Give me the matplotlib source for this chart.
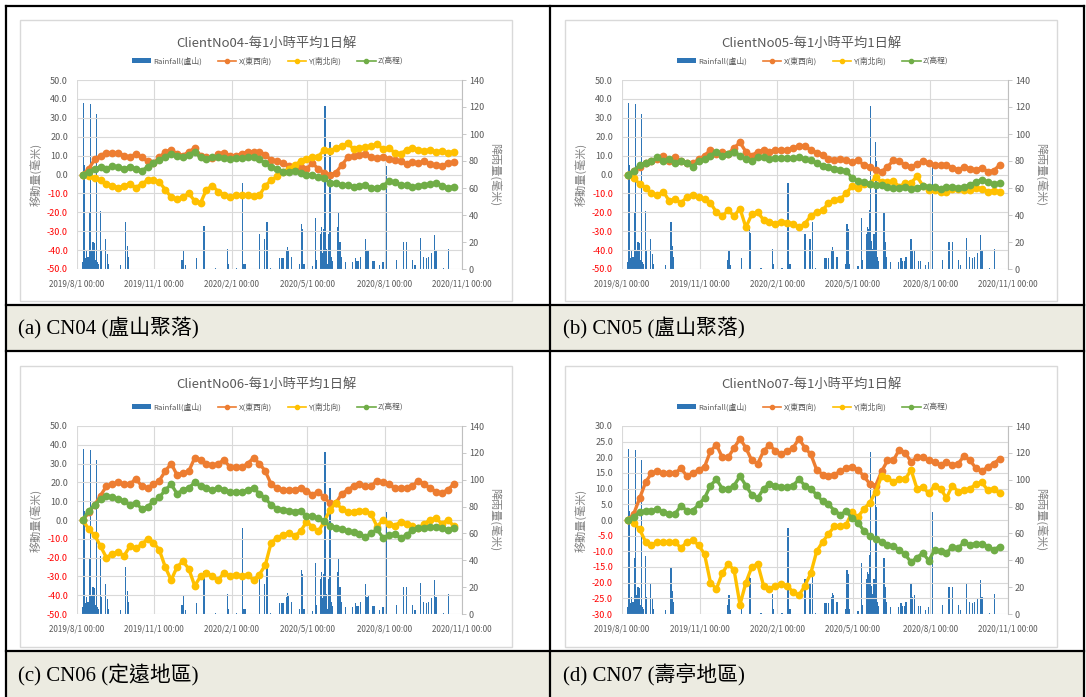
import datetime as dt
import numpy as np
import matplotlib
matplotlib.use('Agg')
import matplotlib.pyplot as plt
import matplotlib.dates as mdates
from matplotlib.patches import Rectangle, Patch
from matplotlib.lines import Line2D

plt.rcParams['font.family'] = ['Noto Sans CJK TC', 'DejaVu Sans']

W, H = 1086, 697
START = dt.date(2019, 8, 1)

# ---------------- data ----------------
# rainfall (盧山) : day offset from 2019/8/1 and daily rainfall in mm
rain_day = [7, 8, 9, 10, 11, 12, 13, 14, 15, 16, 17, 18, 19, 20, 21, 22, 23, 24, 25,
            28, 29, 34, 36, 37, 52, 58, 60, 61, 125, 127, 129, 142, 151, 152, 165,
            179, 180, 190, 197, 198, 200, 217, 223, 226, 230, 241, 243, 245, 249,
            250, 251, 255, 265, 267, 268, 270, 280, 284, 285, 290, 291, 292, 293,
            294, 295, 296, 297, 298, 299, 300, 301, 302, 303, 304, 310, 311, 313,
            314, 319, 328, 331, 333, 335, 337, 343, 345, 347, 352, 354, 360, 364,
            368, 380, 388, 392, 399, 402, 409, 412, 416, 418, 422, 425, 427, 436, 442]
rain_mm = [5, 123, 77, 8, 13, 6, 9, 4, 42, 122, 14, 10, 20, 20, 19, 7, 115, 5, 4,
           43, 13, 22, 11, 4, 3, 35, 17, 9, 7, 14, 3, 8, 32, 27, 1,
           15, 4, 1, 64, 4, 4, 26, 22, 35, 1, 8, 8, 8, 13,
           16, 14, 9, 4, 33, 30, 4, 2, 38, 7, 26, 31, 12, 30,
           44, 121, 21, 15, 4, 26, 10, 94, 80, 9, 6, 31, 42, 20,
           9, 5, 5, 8, 6, 6, 9, 22, 13, 14, 6, 6, 3, 5,
           76, 7, 20, 20, 7, 3, 23, 9, 8, 9, 12, 25, 13, 1, 15]

# displacement sampling days (offset from 2019/8/1)
series_day = [7, 14, 21, 28, 35, 42, 49, 56, 63, 70, 77, 84, 91, 98, 105, 112,
              119, 126, 133, 140, 147, 154, 161, 168, 175, 182, 189, 196, 203,
              210, 217, 224, 231, 238, 245, 252, 259, 266, 273, 280, 287, 294,
              301, 308, 315, 322, 329, 336, 343, 350, 357, 364, 371, 378, 385,
              392, 399, 406, 413, 420, 427, 434, 441, 448]

cn04_x = [0, 3, 8, 10, 11.5, 11.5, 11.5, 10, 9, 11, 9, 7, 6, 9, 12, 13, 11, 10, 12, 14,
          10, 9, 8.5, 11, 11.5, 10, 10, 11, 12, 12,
          12, 10.5, 7.5, 7, 6, 4.5, 4, 4, 3, 6, 3, 1, -0.3, 1, 5, 9, 10, 10.5, 11, 9,
          8.5, 9.5, 8, 7.5, 7, 5.5, 6.5, 6, 7, 5.5, 5, 4.5, 6, 6.5]
cn04_y = [0, -1, -2, -3, -5, -6, -7, -6, -5, -7, -5, -3, -3, -4, -8, -12, -13, -12, -10, -14,
          -15, -8, -6, -9, -11, -12, -11, -11, -11, -11.5,
          -11, -6, -3, -1, 1.5, 3, 5, 7, 8, 9.5, 9.5, 13, 12.5, 14, 15, 16.5, 13.5, 14, 14.5, 15,
          16, 13.5, 14, 11.5, 11, 13, 14, 13, 12.5, 13, 12, 12.5, 11.5, 12]
cn04_z = [0, 1.5, 3, 4, 3, 4.5, 4, 3, 4, 3, 2, 4, 6, 7.5, 9.5, 11, 10, 9, 10.5, 12,
          9, 8, 9, 9, 8.5, 8, 8.5, 8.5, 9, 9.5,
          8, 6, 4, 3, 1.5, 1.5, 2, 0.8, 0, -0.5, -1.5, -2, -4.5, -4.5, -5.5, -5.5, -6.5, -6, -5.5, -7,
          -7, -6, -3.5, -4, -5.5, -5.5, -6.5, -6, -5.5, -5, -4.5, -6, -7, -6.5]

cn05_x = [0, 2, 4, 6, 7, 8, 10, 7, 9, 7, 6, 6, 8, 10, 13, 11, 12, 11, 14, 17,
          12, 10, 12, 13, 12, 13, 13, 13, 14, 15,
          15, 13, 11.5, 10.5, 8, 7.5, 8, 7.5, 6.5, 7.5, 5, 4, 2.5, 1.5, 4, 7.5, 7, 5, 4, 5.5,
          7, 6, 5, 5, 5, 3.5, 2.5, 4, 3, 2.5, 3.5, 1.5, 2, 5]
cn05_y = [0, -2, -5, -7, -10, -11, -9, -14, -13, -15, -12, -11, -12, -13, -15, -20, -22, -19, -22, -18,
          -28, -21, -20, -24, -25, -26, -25, -25.5, -26, -28,
          -26, -22, -20, -19, -15, -13.5, -13, -10, -6, -7, -5, -5, -1.5, -4, -4, -3.5, -6.5, -4.5, -4.5, -1,
          -6, -8, -8, -9, -9, -7.5, -7.5, -8, -8, -7, -7.5, -9, -8.5, -9]
cn05_z = [0, 2, 5, 6, 7, 9, 7, 8, 6, 7, 6, 4, 7, 8, 10, 12, 10, 11, 12, 10,
          8, 7, 9, 9, 8, 8.5, 8.5, 8.5, 8.5, 9,
          8, 7.5, 6, 4.5, 4, 3, 2.5, 2, -2, -3.5, -4, -5, -5.5, -5.5, -6.5, -7, -7, -6.5, -7.5, -7,
          -6, -6.5, -6.5, -7.5, -6.5, -6.5, -7, -6.5, -5.5, -4, -3, -4, -5, -4.5]

cn06_x = [0, 4, 8, 13, 18, 19, 20, 19, 19, 22, 18, 17, 19, 21, 26, 30, 24, 25, 26, 33,
          32, 30, 29, 30, 32, 28, 28, 28, 30, 33,
          30, 26, 19, 17, 16, 16, 16, 17, 15.5, 13.5, 15, 12, 9, 9, 14, 16, 18, 19, 18, 18,
          21, 20, 19, 17, 17, 17, 18, 21, 19, 17, 15, 14.5, 16, 19]
cn06_y = [0, -5, -8, -14, -20, -18, -17, -19, -14, -15, -13, -10, -12, -16, -25, -32, -25, -22, -26, -35,
          -30, -28, -30, -32, -28, -30, -29, -30, -29, -32,
          -29, -24, -12, -9.5, -8, -7, -8.5, -6, -1, -3.5, -6, -1, 5.5, 9, 6, 4, 4.5, 5, 5, 3,
          -3.5, 0, -2, -3, -1, -2, -3, -4.5, -2, 0, 1, -2, 0, -3]
cn06_z = [0, 5, 8, 11, 13, 12, 11, 10, 8, 9, 6, 7, 10, 12, 16, 19, 14, 16, 17, 20,
          18, 17, 16, 17, 16, 15, 15, 15, 16, 17,
          14, 11.5, 8, 6, 5.5, 5, 4.5, 5, 2, 2, 1, -0.5, -3, -4, -5, -6, -6.5, -7.5, -9, -7,
          -5, -9.5, -8, -7.5, -9.5, -8, -5.5, -4, -4, -3.5, -3.5, -4.5, -5.5, -4]

cn07_x = [0, 2, 7, 12, 15, 15.5, 15, 15, 15, 16.5, 14, 15, 16, 17, 22, 24, 20, 20, 23, 26,
          23, 19, 18, 22, 24, 22, 21, 22, 23, 26,
          23, 21, 16, 14.5, 14, 14.5, 15.5, 16.5, 17, 16, 14, 11.5, 11, 15.5, 19, 19, 22.5, 21.5, 18.5, 20,
          20, 19, 18.5, 17.5, 18.5, 17.5, 18, 20.5, 19, 16.5, 15.5, 17, 18, 19.5]
cn07_y = [0, -1, -3, -7, -8, -7, -7, -7, -7, -9, -7, -6.5, -8, -11, -20, -22, -17, -14, -16, -27,
          -20, -15, -14, -21, -22, -21, -20.5, -21, -23, -24,
          -21, -17, -10, -7, -4.5, -2, -2, -1.5, 2.5, 1, 3.5, 5.5, 9, 14, 13.5, 12, 13, 13, 16, 10,
          10.5, 8.5, 11, 10, 7, 11, 9, 9.5, 10, 11.5, 12, 9.5, 10, 8.5]
cn07_z = [0, 1, 2.5, 3, 3, 3.5, 2.5, 2, 2, 4.5, 3, 3, 5, 7, 11, 13, 10, 10, 11, 14,
          11, 8, 7, 10, 11.5, 11, 10.5, 10.5, 11, 13,
          11, 10, 8, 6, 5, 3, 1.7, 2.8, 0.5, -0.8, -3.5, -5, -6, -7, -8, -8.4, -9.5, -11, -13.5, -12,
          -10.5, -13, -9.5, -10, -10.5, -8.5, -9, -7, -8, -7.5, -7.5, -8.5, -9.5, -8.5]

titles = ['ClientNo04-每1小時平均1日解', 'ClientNo05-每1小時平均1日解',
          'ClientNo06-每1小時平均1日解', 'ClientNo07-每1小時平均1日解']
captions = ['(a) CN04 (盧山聚落)', '(b) CN05 (盧山聚落)',
            '(c) CN06 (定遠地區)', '(d) CN07 (壽亭地區)']
legend_labels = ['Rainfall(盧山)', 'X(東西向)', 'Y(南北向)', 'Z(高程)']
x_tick_dates = [dt.date(2019, 8, 1), dt.date(2019, 11, 1), dt.date(2020, 2, 1),
                dt.date(2020, 5, 1), dt.date(2020, 8, 1), dt.date(2020, 11, 1)]
x_tick_labels = ['2019/8/1 00:00', '2019/11/1 00:00', '2020/2/1 00:00',
                 '2020/5/1 00:00', '2020/8/1 00:00', '2020/11/1 00:00']
left_ranges = [(-50, 50, 10), (-50, 50, 10), (-50, 50, 10), (-30, 30, 5)]
rain_ticks = [0, 20, 40, 60, 80, 100, 120, 140]

panels = [(cn04_x, cn04_y, cn04_z), (cn05_x, cn05_y, cn05_z),
          (cn06_x, cn06_y, cn06_z), (cn07_x, cn07_y, cn07_z)]

C_BAR = '#2E75B6'
C_X = '#ED7D31'
C_Y = '#FFC000'
C_Z = '#70AD47'
C_TXT = '#595959'
C_GRID = '#D9D9D9'

# ---------------- figure ----------------
fig = plt.figure(figsize=(W / 100, H / 100), dpi=100)


def fx(x):
    return x / W


def fy(y):
    return 1 - y / H


# caption backgrounds
for (x0, x1) in [(6, 550), (550, 1084)]:
    for (y0, y1) in [(305, 351), (651, 697)]:
        fig.patches.append(Rectangle((fx(x0), fy(y1)), fx(x1 - x0), (y1 - y0) / H,
                                     transform=fig.transFigure, facecolor='#ECEBE1',
                                     edgecolor='none', zorder=-3))

# table lines
for y in [6, 305, 351, 651]:
    fig.add_artist(Line2D([fx(6), fx(1084)], [fy(y), fy(y)], color='black', lw=1.6,
                          transform=fig.transFigure, zorder=5))
for x in [6, 550, 1084]:
    fig.add_artist(Line2D([fx(x), fx(x)], [fy(6), fy(697)], color='black', lw=1.6,
                          transform=fig.transFigure, zorder=5))

rain_dates = [START + dt.timedelta(days=d) for d in rain_day]
ser_dates = [START + dt.timedelta(days=d) for d in series_day]

# panel geometry: chart box, plot area, title y, legend y (pixels)
geo = [
    dict(box=(20, 20, 512, 301), plot=(77, 80, 462, 269), ty=43, ly=61),
    dict(box=(565, 20, 1057, 301), plot=(622, 80, 1008, 269), ty=43, ly=61),
    dict(box=(20, 366, 512, 647), plot=(77, 426, 462, 614), ty=384, ly=407),
    dict(box=(565, 366, 1057, 647), plot=(622, 426, 1008, 614), ty=384, ly=407),
]
cap_pos = [(18, 328), (563, 328), (18, 675), (563, 675)]

for i, g in enumerate(geo):
    bx0, by0, bx1, by1 = g['box']
    fig.patches.append(Rectangle((fx(bx0), fy(by1)), fx(bx1 - bx0), (by1 - by0) / H,
                                 transform=fig.transFigure, facecolor='white',
                                 edgecolor=C_GRID, lw=1.0, zorder=-2))
    px0, py0, px1, py1 = g['plot']
    ax2 = fig.add_axes([fx(px0), fy(py1), fx(px1 - px0), (py1 - py0) / H])
    ax2.patch.set_visible(False)
    ax = ax2.twinx()
    ax.yaxis.tick_left()
    ax2.yaxis.tick_right()
    ax.set_zorder(ax2.get_zorder() + 1)
    ax.patch.set_visible(False)

    lo, hi, st = left_ranges[i]
    ax2.bar(rain_dates, rain_mm, width=1.5, color=C_BAR, linewidth=0, zorder=3)
    ax2.set_ylim(0, 140)
    ax2.set_yticks(rain_ticks)
    ax2.set_yticklabels([str(v) for v in rain_ticks])
    ax2.tick_params(axis='y', which='both', right=True, left=False, labelright=True,
                    labelleft=False, labelsize=6.5, labelcolor=C_TXT, color='#BFBFBF',
                    length=3, width=0.6, pad=2)

    xs, ys, zs = panels[i]
    for vals, col in [(xs, C_X), (ys, C_Y), (zs, C_Z)]:
        ax.plot(ser_dates, vals, color=col, lw=2.4, marker='o', markersize=5.6,
                markeredgewidth=0, zorder=4, solid_capstyle='round', solid_joinstyle='round')
    ax.set_ylim(lo, hi)
    lt = np.arange(lo, hi + st / 2, st)
    ax.set_yticks(lt)
    ax.set_yticklabels([f'{v:.1f}' for v in lt])
    ax.tick_params(axis='y', left=False, right=False, labelleft=True, labelright=False,
                   labelsize=6.5, pad=3)
    for lab, v in zip(ax.get_yticklabels(), lt):
        lab.set_color('#FF0000' if v < 0 else C_TXT)

    for a in (ax, ax2):
        for s in a.spines.values():
            s.set_visible(False)
    ax2.spines['right'].set_visible(True)
    ax2.spines['right'].set_color('#BFBFBF')
    ax2.spines['right'].set_linewidth(0.8)

    xlim = (mdates.date2num(x_tick_dates[0]), mdates.date2num(x_tick_dates[-1]))
    ax2.set_xlim(*xlim)
    ax.set_xlim(*xlim)
    ax2.set_xticks(x_tick_dates)
    ax2.set_xticklabels(x_tick_labels)
    ax2.tick_params(axis='x', bottom=False, labelsize=5.8, labelcolor=C_TXT, pad=4)
    ax.tick_params(axis='x', bottom=False, labelbottom=False)
    for d in x_tick_dates:
        ax2.axvline(d, color=C_GRID, lw=0.8, zorder=0)
    for v in lt:
        ax.axhline(v, color=C_GRID, lw=0.8, zorder=0)

    cy = (py0 + py1) / 2
    fig.text(fx(px0 - 41), fy(cy), '移動量(毫米)', rotation=90, ha='center', va='center',
             fontsize=8, color='#808080')
    fig.text(fx(px1 + 33), fy(cy), '降雨量(毫米)', rotation=-90, ha='center', va='center',
             fontsize=8, color='#808080')

    cx = (bx0 + bx1) / 2
    fig.text(fx(cx), fy(g['ty']), titles[i], ha='center', va='center', fontsize=9.5,
             color=C_TXT)
    handles = [Patch(facecolor=C_BAR, edgecolor='none'),
               Line2D([], [], color=C_X, marker='o', markersize=3, lw=1.2),
               Line2D([], [], color=C_Y, marker='o', markersize=3, lw=1.2),
               Line2D([], [], color=C_Z, marker='o', markersize=3, lw=1.2)]
    fig.legend(handles, legend_labels, loc='center', bbox_to_anchor=(fx(cx + 2), fy(g['ly'])),
               ncol=4, frameon=False, fontsize=5.6, handlelength=2.4, handleheight=0.5,
               handletextpad=0.3, columnspacing=2.0, labelcolor=C_TXT)

    cxp, cyp = cap_pos[i]
    fig.text(fx(cxp), fy(cyp), captions[i], ha='left', va='center', fontsize=15,
             family=['Liberation Serif', 'Noto Sans CJK TC'], color='black')

fig.savefig('out.png', dpi=100)
